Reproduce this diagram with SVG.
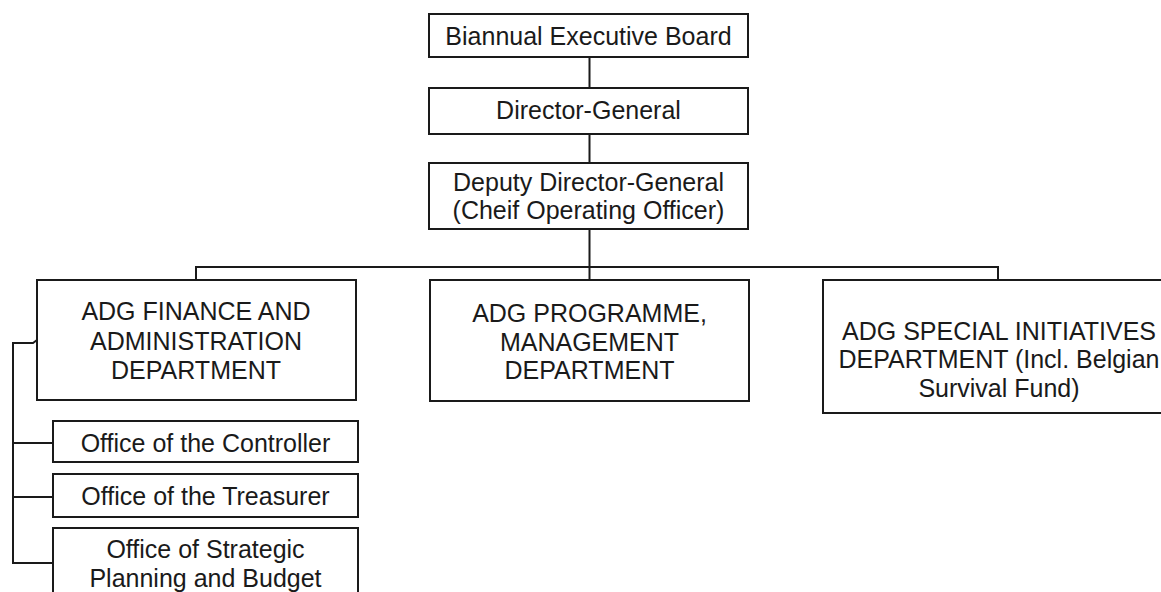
<svg xmlns="http://www.w3.org/2000/svg" width="1161" height="592" viewBox="0 0 1161 592">
<style>
.box{fill:#fff;stroke:#1a1a1a;stroke-width:2}
.ln{fill:none;stroke:#1a1a1a;stroke-width:2}
text{font-family:"Liberation Sans",Arial,Helvetica,sans-serif;font-size:25px;fill:#1a1a1a;text-anchor:middle}
</style>
<rect width="1161" height="592" fill="#fff"/>
<g id="connectors">
<path class="ln" d="M589.5 57V88M589.5 134V163M589.5 229V267"/>
<path class="ln" d="M196 280V267H998V280"/>
<path class="ln" d="M589.5 267V280"/>
<path class="ln" d="M37 340L33 343H13V563H53M13 443H53M13 497H53"/>
</g>
<g id="board"><rect class="box" x="429" y="14" width="319" height="43"/><text x="588.5" y="45">Biannual Executive Board</text></g>
<g id="dg"><rect class="box" x="429" y="88" width="319" height="46"/><text x="588.5" y="119">Director-General</text></g>
<g id="ddg"><rect class="box" x="429" y="163" width="319" height="66"/><text x="588.5" y="191">Deputy Director-General</text><text x="588.5" y="219">(Cheif Operating Officer)</text></g>
<g id="finance"><rect class="box" x="37" y="280" width="319" height="120"/><text x="196" y="320">ADG FINANCE AND</text><text x="196" y="350">ADMINISTRATION</text><text x="196" y="379">DEPARTMENT</text></g>
<g id="programme"><rect class="box" x="430" y="280" width="319" height="121"/><text x="589.5" y="322">ADG PROGRAMME,</text><text x="589.5" y="351">MANAGEMENT</text><text x="589.5" y="379">DEPARTMENT</text></g>
<g id="special"><rect class="box" x="823" y="280" width="350" height="133"/><text x="999" y="340">ADG SPECIAL INITIATIVES</text><text x="999" y="368">DEPARTMENT (Incl. Belgian</text><text x="999" y="397">Survival Fund)</text></g>
<g id="controller"><rect class="box" x="53" y="421" width="305" height="41"/><text x="205.5" y="452">Office of the Controller</text></g>
<g id="treasurer"><rect class="box" x="53" y="474" width="305" height="43"/><text x="205.5" y="505">Office of the Treasurer</text></g>
<g id="strategic"><rect class="box" x="53" y="528" width="305" height="80"/><text x="205.5" y="558">Office of Strategic</text><text x="205.5" y="587">Planning and Budget</text></g>
</svg>
